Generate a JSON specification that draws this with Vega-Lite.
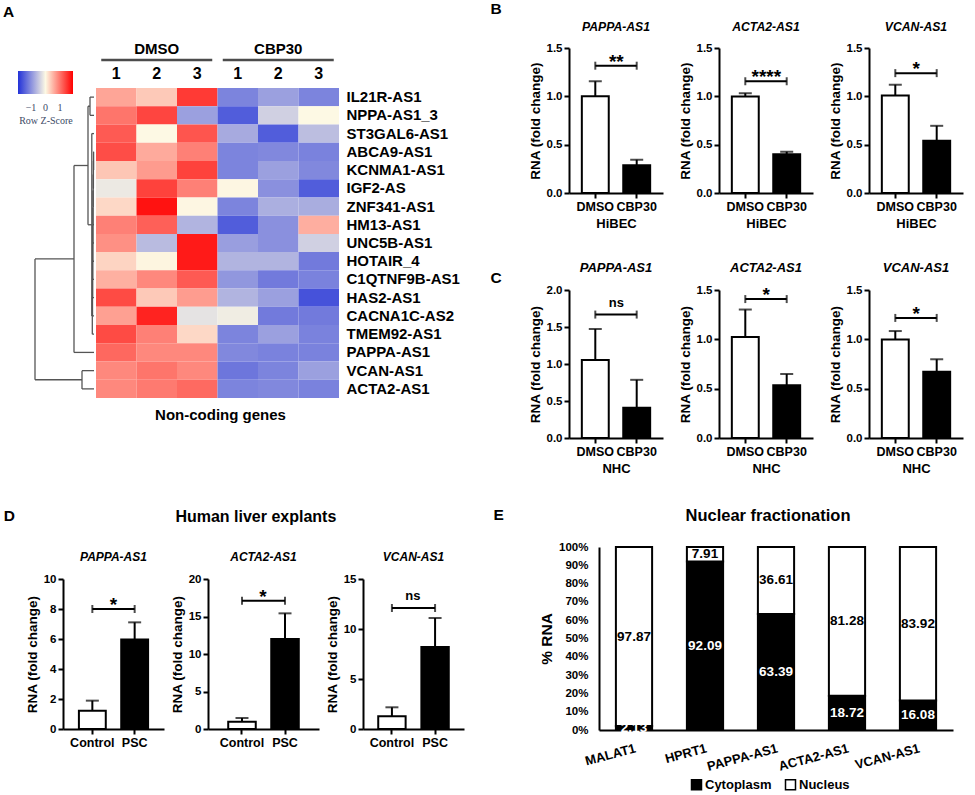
{
"$schema":"https://vega.github.io/schema/vega-lite/v6.json",
"padding":{"left":3,"top":2,"right":5,"bottom":0},
"config":{"font":"Liberation Sans","view":{"stroke":null},
"axis":{"grid":false,"domainColor":"#000","domainWidth":2,"tickColor":"#000","tickWidth":2,"tickSize":5,"labelColor":"#000","labelFont":"Liberation Sans","labelFontWeight":"bold","labelFontSize":11.5,"labelPadding":2,"labelOverlap":false,"titleColor":"#000","titleFont":"Liberation Sans","titleFontWeight":"bold","titleFontSize":13.5},
"axisX":{"titlePadding":5,"labelFontSize":12.5,"titleFontSize":13},
"axisY":{"titlePadding":3.5,"labelOverlap":false},
"title":{"font":"Liberation Sans","fontWeight":"bold","color":"#000"},
"text":{"font":"Liberation Sans"}},
"resolve":{"scale":{"color":"independent","fill":"independent"},"legend":{"color":"independent","fill":"independent"}},
"spacing":26,
"hconcat":[
{"spacing":85,"resolve":{"scale":{"color":"independent","fill":"independent"},"legend":{"color":"independent","fill":"independent"}},
"vconcat":[
{"title":{"text":"A","anchor":"start","fontSize":15.5,"dx":-15,"offset":22},"spacing":3,
"resolve":{"scale":{"color":"independent","fill":"independent"},"legend":{"color":"independent","fill":"independent"}},
"vconcat":[
{"width":304,"height":13,
"data":{"values":[{"s":"DMSO 2","t":"DMSO"},{"s":"CBP30 2","t":"CBP30"}]},
"encoding":{"x":{"field":"s","type":"nominal","scale":{"domain":["DMSO 1","DMSO 2","DMSO 3","CBP30 1","CBP30 2","CBP30 3"],"range":[61,304],"paddingInner":0,"paddingOuter":0},"axis":null},
"y":{"datum":0,"type":"quantitative","scale":{"domain":[-0.08,1],"nice":false},"axis":null}},
"layer":[
{"mark":{"type":"tick","orient":"horizontal","size":111,"thickness":2.5,"color":"#000"}},
{"mark":{"type":"text","fontSize":15,"fontWeight":"bold","dy":-6,"baseline":"alphabetic","color":"#000"},"encoding":{"text":{"field":"t"}}}
]},
{"hconcat":[
{"width":61,"height":310,
"data":{"values":[
{"a":4,"b":4,"p":1,"q":2},{"a":0,"b":4,"p":1,"q":1},{"a":0,"b":4,"p":2,"q":2},
{"a":0.4,"b":0.4,"p":4,"q":5},{"a":0,"b":0.4,"p":4,"q":4},{"a":0,"b":0.4,"p":5,"q":5},
{"a":0.6,"b":0.6,"p":4.5,"q":6},{"a":0.4,"b":0.6,"p":4.5,"q":4.5},{"a":0,"b":0.6,"p":6,"q":6},
{"a":0.8,"b":0.8,"p":5.25,"q":7},{"a":0.6,"b":0.8,"p":5.25,"q":5.25},{"a":0,"b":0.8,"p":7,"q":7},
{"a":1,"b":1,"p":6.125,"q":8},{"a":0.8,"b":1,"p":6.125,"q":6.125},{"a":0,"b":1,"p":8,"q":8},
{"a":1.1,"b":1.1,"p":7.06,"q":9},{"a":1,"b":1.1,"p":7.06,"q":7.06},{"a":0,"b":1.1,"p":9,"q":9},
{"a":1.2,"b":1.2,"p":8.03,"q":10},{"a":1.1,"b":1.2,"p":8.03,"q":8.03},{"a":0,"b":1.2,"p":10,"q":10},
{"a":1.3,"b":1.3,"p":9.02,"q":11},{"a":1.2,"b":1.3,"p":9.02,"q":9.02},{"a":0,"b":1.3,"p":11,"q":11},
{"a":1.4,"b":1.4,"p":10.01,"q":12},{"a":1.3,"b":1.4,"p":10.01,"q":10.01},{"a":0,"b":1.4,"p":12,"q":12},
{"a":1.5,"b":1.5,"p":11,"q":13},{"a":1.4,"b":1.5,"p":11,"q":11},{"a":0,"b":1.5,"p":13,"q":13},
{"a":1.7,"b":1.7,"p":12,"q":14},{"a":1.5,"b":1.7,"p":12,"q":12},{"a":0,"b":1.7,"p":14,"q":14},
{"a":2.2,"b":2.2,"p":3,"q":13},{"a":0,"b":2.2,"p":3,"q":3},{"a":1.7,"b":2.2,"p":13,"q":13},
{"a":6,"b":6,"p":1.5,"q":8},{"a":4,"b":6,"p":1.5,"q":1.5},{"a":2.2,"b":6,"p":8,"q":8},
{"a":20,"b":20,"p":4.75,"q":15},{"a":6,"b":20,"p":4.75,"q":4.75},{"a":0,"b":20,"p":15,"q":15},
{"a":12,"b":12,"p":16,"q":17},{"a":0,"b":12,"p":16,"q":16},{"a":0,"b":12,"p":17,"q":17},
{"a":59,"b":59,"p":9.875,"q":16.5},{"a":20,"b":59,"p":9.875,"q":9.875},{"a":12,"b":59,"p":16.5,"q":16.5}
]},
"mark":{"type":"rule","color":"#555","strokeWidth":1.3},
"encoding":{"x":{"field":"a","type":"quantitative","scale":{"domain":[-2,59],"reverse":true,"nice":false,"zero":false},"axis":null},
"x2":{"field":"b"},
"y":{"field":"p","type":"quantitative","scale":{"domain":[0.5,17.5],"reverse":true,"nice":false,"zero":false},"axis":null},
"y2":{"field":"q"}}},
{"width":243,"height":310,
"title":{"text":"Non-coding genes","orient":"bottom","fontSize":15,"offset":10,"dx":3},
"data":{"values":[
{"g":"IL21R-AS1","s":"DMSO 1","z":0.64},{"g":"IL21R-AS1","s":"DMSO 2","z":0.37},{"g":"IL21R-AS1","s":"DMSO 3","z":1.46},{"g":"IL21R-AS1","s":"CBP30 1","z":-1.12},{"g":"IL21R-AS1","s":"CBP30 2","z":-0.85},{"g":"IL21R-AS1","s":"CBP30 3","z":-1.12},
{"g":"NPPA-AS1_3","s":"DMSO 1","z":1.01},{"g":"NPPA-AS1_3","s":"DMSO 2","z":1.37},{"g":"NPPA-AS1_3","s":"DMSO 3","z":-0.85},{"g":"NPPA-AS1_3","s":"CBP30 1","z":-1.49},{"g":"NPPA-AS1_3","s":"CBP30 2","z":-0.39},{"g":"NPPA-AS1_3","s":"CBP30 3","z":0.0},
{"g":"ST3GAL6-AS1","s":"DMSO 1","z":1.21},{"g":"ST3GAL6-AS1","s":"DMSO 2","z":0.0},{"g":"ST3GAL6-AS1","s":"DMSO 3","z":1.25},{"g":"ST3GAL6-AS1","s":"CBP30 1","z":-0.75},{"g":"ST3GAL6-AS1","s":"CBP30 2","z":-1.49},{"g":"ST3GAL6-AS1","s":"CBP30 3","z":-0.56},
{"g":"ABCA9-AS1","s":"DMSO 1","z":1.31},{"g":"ABCA9-AS1","s":"DMSO 2","z":0.6},{"g":"ABCA9-AS1","s":"DMSO 3","z":0.92},{"g":"ABCA9-AS1","s":"CBP30 1","z":-1.12},{"g":"ABCA9-AS1","s":"CBP30 2","z":-1.08},{"g":"ABCA9-AS1","s":"CBP30 3","z":-1.14},
{"g":"KCNMA1-AS1","s":"DMSO 1","z":0.39},{"g":"KCNMA1-AS1","s":"DMSO 2","z":0.72},{"g":"KCNMA1-AS1","s":"DMSO 3","z":1.4},{"g":"KCNMA1-AS1","s":"CBP30 1","z":-1.12},{"g":"KCNMA1-AS1","s":"CBP30 2","z":-0.85},{"g":"KCNMA1-AS1","s":"CBP30 3","z":-1.08},
{"g":"IGF2-AS","s":"DMSO 1","z":-0.15},{"g":"IGF2-AS","s":"DMSO 2","z":1.4},{"g":"IGF2-AS","s":"DMSO 3","z":0.92},{"g":"IGF2-AS","s":"CBP30 1","z":0.02},{"g":"IGF2-AS","s":"CBP30 2","z":-1.0},{"g":"IGF2-AS","s":"CBP30 3","z":-1.49},
{"g":"ZNF341-AS1","s":"DMSO 1","z":0.25},{"g":"ZNF341-AS1","s":"DMSO 2","z":1.76},{"g":"ZNF341-AS1","s":"DMSO 3","z":0.02},{"g":"ZNF341-AS1","s":"CBP30 1","z":-1.12},{"g":"ZNF341-AS1","s":"CBP30 2","z":-0.71},{"g":"ZNF341-AS1","s":"CBP30 3","z":-0.73},
{"g":"HM13-AS1","s":"DMSO 1","z":0.92},{"g":"HM13-AS1","s":"DMSO 2","z":1.17},{"g":"HM13-AS1","s":"DMSO 3","z":-0.66},{"g":"HM13-AS1","s":"CBP30 1","z":-1.49},{"g":"HM13-AS1","s":"CBP30 2","z":-1.0},{"g":"HM13-AS1","s":"CBP30 3","z":0.57},
{"g":"UNC5B-AS1","s":"DMSO 1","z":0.8},{"g":"UNC5B-AS1","s":"DMSO 2","z":-0.59},{"g":"UNC5B-AS1","s":"DMSO 3","z":1.7},{"g":"UNC5B-AS1","s":"CBP30 1","z":-0.87},{"g":"UNC5B-AS1","s":"CBP30 2","z":-1.0},{"g":"UNC5B-AS1","s":"CBP30 3","z":-0.39},
{"g":"HOTAIR_4","s":"DMSO 1","z":0.28},{"g":"HOTAIR_4","s":"DMSO 2","z":0.03},{"g":"HOTAIR_4","s":"DMSO 3","z":1.7},{"g":"HOTAIR_4","s":"CBP30 1","z":-0.66},{"g":"HOTAIR_4","s":"CBP30 2","z":-0.66},{"g":"HOTAIR_4","s":"CBP30 3","z":-1.21},
{"g":"C1QTNF9B-AS1","s":"DMSO 1","z":0.56},{"g":"C1QTNF9B-AS1","s":"DMSO 2","z":0.86},{"g":"C1QTNF9B-AS1","s":"DMSO 3","z":1.21},{"g":"C1QTNF9B-AS1","s":"CBP30 1","z":-0.94},{"g":"C1QTNF9B-AS1","s":"CBP30 2","z":-1.21},{"g":"C1QTNF9B-AS1","s":"CBP30 3","z":-1.14},
{"g":"HAS2-AS1","s":"DMSO 1","z":1.33},{"g":"HAS2-AS1","s":"DMSO 2","z":0.37},{"g":"HAS2-AS1","s":"DMSO 3","z":0.71},{"g":"HAS2-AS1","s":"CBP30 1","z":-0.66},{"g":"HAS2-AS1","s":"CBP30 2","z":-0.85},{"g":"HAS2-AS1","s":"CBP30 3","z":-1.59},
{"g":"CACNA1C-AS2","s":"DMSO 1","z":0.68},{"g":"CACNA1C-AS2","s":"DMSO 2","z":1.63},{"g":"CACNA1C-AS2","s":"DMSO 3","z":-0.21},{"g":"CACNA1C-AS2","s":"CBP30 1","z":-0.11},{"g":"CACNA1C-AS2","s":"CBP30 2","z":-1.21},{"g":"CACNA1C-AS2","s":"CBP30 3","z":-1.21},
{"g":"TMEM92-AS1","s":"DMSO 1","z":1.33},{"g":"TMEM92-AS1","s":"DMSO 2","z":0.92},{"g":"TMEM92-AS1","s":"DMSO 3","z":0.25},{"g":"TMEM92-AS1","s":"CBP30 1","z":-1.12},{"g":"TMEM92-AS1","s":"CBP30 2","z":-0.85},{"g":"TMEM92-AS1","s":"CBP30 3","z":-1.14},
{"g":"PAPPA-AS1","s":"DMSO 1","z":1.11},{"g":"PAPPA-AS1","s":"DMSO 2","z":0.86},{"g":"PAPPA-AS1","s":"DMSO 3","z":0.86},{"g":"PAPPA-AS1","s":"CBP30 1","z":-1.08},{"g":"PAPPA-AS1","s":"CBP30 2","z":-1.14},{"g":"PAPPA-AS1","s":"CBP30 3","z":-1.14},
{"g":"VCAN-AS1","s":"DMSO 1","z":0.86},{"g":"VCAN-AS1","s":"DMSO 2","z":1.01},{"g":"VCAN-AS1","s":"DMSO 3","z":0.86},{"g":"VCAN-AS1","s":"CBP30 1","z":-1.25},{"g":"VCAN-AS1","s":"CBP30 2","z":-1.12},{"g":"VCAN-AS1","s":"CBP30 3","z":-0.85},
{"g":"ACTA2-AS1","s":"DMSO 1","z":0.86},{"g":"ACTA2-AS1","s":"DMSO 2","z":0.97},{"g":"ACTA2-AS1","s":"DMSO 3","z":1.09},{"g":"ACTA2-AS1","s":"CBP30 1","z":-1.12},{"g":"ACTA2-AS1","s":"CBP30 2","z":-1.08},{"g":"ACTA2-AS1","s":"CBP30 3","z":-1.14}
]},
"mark":{"type":"rect","strokeWidth":0},
"encoding":{
"x":{"field":"s","type":"nominal","scale":{"domain":["DMSO 1","DMSO 2","DMSO 3","CBP30 1","CBP30 2","CBP30 3"],"paddingInner":0,"paddingOuter":0},"axis":{"orient":"top","title":null,"labelExpr":"slice(datum.label, -1)","domain":false,"ticks":false,"tickSize":0,"labelPadding":7,"labelFontSize":16,"labelAngle":0}},
"y":{"field":"g","type":"nominal","scale":{"domain":["IL21R-AS1","NPPA-AS1_3","ST3GAL6-AS1","ABCA9-AS1","KCNMA1-AS1","IGF2-AS","ZNF341-AS1","HM13-AS1","UNC5B-AS1","HOTAIR_4","C1QTNF9B-AS1","HAS2-AS1","CACNA1C-AS2","TMEM92-AS1","PAPPA-AS1","VCAN-AS1","ACTA2-AS1"],"paddingInner":0,"paddingOuter":0},"axis":{"orient":"right","title":null,"domain":false,"ticks":false,"tickSize":0,"labelPadding":7,"labelFontSize":15}},
"color":{"field":"z","type":"quantitative","scale":{"domain":[-1.9,0,1.9],"range":["#2232d8","#fdf9e4","#ff0000"],"interpolate":"rgb"},
"legend":{"orient":"none","legendX":-78,"legendY":-17,"direction":"horizontal","gradientLength":55,"gradientThickness":23,"gradientStrokeWidth":0,"values":[-1,0,1],"title":"Row Z-Score","titleOrient":"bottom","titleAnchor":"middle","titleFont":"Liberation Sans Narrow","titleFontSize":10,"titleFontWeight":"normal","titleColor":"#3c4a66","titlePadding":3,"labelFont":"Liberation Sans Narrow","labelFontSize":10,"labelFontWeight":"normal","labelColor":"#3c4a66","labelOffset":9,"labelOverlap":false,"padding":0}}}}
],"spacing":0,"bounds":"flush","resolve":{"scale":{"color":"independent","fill":"independent"},"legend":{"color":"independent","fill":"independent"}}}
]},
{"title":{"text":"D","anchor":"start","fontSize":15.5,"dx":-22,"dy":15,"offset":0},
"resolve":{"scale":{"color":"independent","fill":"independent"},"legend":{"color":"independent","fill":"independent"}},
"vconcat":[
{"title":{"text":"Human liver explants","fontSize":16,"offset":26,"dx":11,"frame":"bounds","anchor":"middle"},"spacing":6,
"resolve":{"scale":{"color":"independent","fill":"independent"},"legend":{"color":"independent","fill":"independent"}},
"hconcat":[
{"width":129,"height":150,"title":{"text":"PAPPA-AS1","fontStyle":"italic","fontSize":12,"offset":9,"dx":14},
"encoding":{"x":{"field":"c","type":"nominal","title":null,"scale":{"domain":["Control","PSC"],"paddingInner":0.365,"paddingOuter":0.376,"range":[28,129]},"axis":{"labelAngle":0}}},
"layer":[
{"data":{"values":[{"c":"Control","m":1.22,"u":1.89},{"c":"PSC","m":5.96,"u":7.11}]},
"layer":[
{"mark":{"type":"bar","stroke":"#000","strokeWidth":2},"encoding":{"y":{"field":"m","type":"quantitative","scale":{"domain":[0,10],"nice":false},"axis":{"title":"RNA (fold change)","values":[0,2,4,6,8,10],"tickCount":20,"format":"d","offset":-28,"labelOverlap":false}},"fill":{"condition":{"test":"datum.c === 'Control'","value":"#fff"},"value":"#000"}}},
{"mark":{"type":"rule","strokeWidth":2,"color":"#000"},"encoding":{"y":{"field":"m","type":"quantitative","scale":{"domain":[0,10],"nice":false}},"y2":{"field":"u"}}},
{"mark":{"type":"tick","orient":"horizontal","size":13,"thickness":2,"color":"#000"},"encoding":{"y":{"field":"u","type":"quantitative","scale":{"domain":[0,10],"nice":false}}}}
]},
{"data":{"values":[{"c":"Control","d":"PSC","y":8.0,"t":"*"}]},
"layer":[
{"mark":{"type":"rule","strokeWidth":2,"color":"#000"},"encoding":{"x2":{"field":"d"},"y":{"field":"y","type":"quantitative","scale":{"domain":[0,10],"nice":false}}}},
{"mark":{"type":"tick","orient":"vertical","size":8,"thickness":2,"color":"#000"},"encoding":{"y":{"field":"y","type":"quantitative","scale":{"domain":[0,10],"nice":false}}}},
{"mark":{"type":"tick","orient":"vertical","size":8,"thickness":2,"color":"#000"},"encoding":{"x":{"field":"d","type":"nominal","title":null,"scale":{"domain":["Control","PSC"],"paddingInner":0.365,"paddingOuter":0.376,"range":[28,129]},"axis":{"labelAngle":0}},"y":{"field":"y","type":"quantitative","scale":{"domain":[0,10],"nice":false}}}},
{"mark":{"type":"text","fontWeight":"bold","fontSize":19,"baseline":"alphabetic","dx":21,"dy":2},"encoding":{"y":{"field":"y","type":"quantitative","scale":{"domain":[0,10],"nice":false}},"text":{"field":"t"}}}
]}
]},
{"width":111,"height":150,"title":{"text":"ACTA2-AS1","fontStyle":"italic","fontSize":12,"offset":9},
"encoding":{"x":{"field":"c","type":"nominal","title":null,"scale":{"domain":["Control","PSC"],"paddingInner":0.36,"paddingOuter":0.47},"axis":{"labelAngle":0}}},
"layer":[
{"data":{"values":[{"c":"Control","m":0.98,"u":1.47},{"c":"PSC","m":12.0,"u":15.42}]},
"layer":[
{"mark":{"type":"bar","stroke":"#000","strokeWidth":2},"encoding":{"y":{"field":"m","type":"quantitative","scale":{"domain":[0,20],"nice":false},"axis":{"title":"RNA (fold change)","values":[0,5,10,15,20],"tickCount":20,"format":"d","labelOverlap":false}},"fill":{"condition":{"test":"datum.c === 'Control'","value":"#fff"},"value":"#000"}}},
{"mark":{"type":"rule","strokeWidth":2,"color":"#000"},"encoding":{"y":{"field":"m","type":"quantitative","scale":{"domain":[0,20],"nice":false}},"y2":{"field":"u"}}},
{"mark":{"type":"tick","orient":"horizontal","size":13,"thickness":2,"color":"#000"},"encoding":{"y":{"field":"u","type":"quantitative","scale":{"domain":[0,20],"nice":false}}}}
]},
{"data":{"values":[{"c":"Control","d":"PSC","y":17.1,"t":"*"}]},
"layer":[
{"mark":{"type":"rule","strokeWidth":2,"color":"#000"},"encoding":{"x2":{"field":"d"},"y":{"field":"y","type":"quantitative","scale":{"domain":[0,20],"nice":false}}}},
{"mark":{"type":"tick","orient":"vertical","size":8,"thickness":2,"color":"#000"},"encoding":{"y":{"field":"y","type":"quantitative","scale":{"domain":[0,20],"nice":false}}}},
{"mark":{"type":"tick","orient":"vertical","size":8,"thickness":2,"color":"#000"},"encoding":{"x":{"field":"d","type":"nominal","title":null,"scale":{"domain":["Control","PSC"],"paddingInner":0.36,"paddingOuter":0.47},"axis":{"labelAngle":0}},"y":{"field":"y","type":"quantitative","scale":{"domain":[0,20],"nice":false}}}},
{"mark":{"type":"text","fontWeight":"bold","fontSize":19,"baseline":"alphabetic","dx":21,"dy":2},"encoding":{"y":{"field":"y","type":"quantitative","scale":{"domain":[0,20],"nice":false}},"text":{"field":"t"}}}
]}
]},
{"width":101,"height":150,"title":{"text":"VCAN-AS1","fontStyle":"italic","fontSize":12,"offset":9},
"encoding":{"x":{"field":"c","type":"nominal","title":null,"scale":{"domain":["Control","PSC"],"paddingInner":0.365,"paddingOuter":0.353},"axis":{"labelAngle":0}}},
"layer":[
{"data":{"values":[{"c":"Control","m":1.27,"u":2.17},{"c":"PSC","m":8.2,"u":11.1}]},
"layer":[
{"mark":{"type":"bar","stroke":"#000","strokeWidth":2},"encoding":{"y":{"field":"m","type":"quantitative","scale":{"domain":[0,15],"nice":false},"axis":{"title":"RNA (fold change)","values":[0,5,10,15],"tickCount":20,"format":"d","labelOverlap":false}},"fill":{"condition":{"test":"datum.c === 'Control'","value":"#fff"},"value":"#000"}}},
{"mark":{"type":"rule","strokeWidth":2,"color":"#000"},"encoding":{"y":{"field":"m","type":"quantitative","scale":{"domain":[0,15],"nice":false}},"y2":{"field":"u"}}},
{"mark":{"type":"tick","orient":"horizontal","size":13,"thickness":2,"color":"#000"},"encoding":{"y":{"field":"u","type":"quantitative","scale":{"domain":[0,15],"nice":false}}}}
]},
{"data":{"values":[{"c":"Control","d":"PSC","y":12.1,"t":"ns"}]},
"layer":[
{"mark":{"type":"rule","strokeWidth":2,"color":"#000"},"encoding":{"x2":{"field":"d"},"y":{"field":"y","type":"quantitative","scale":{"domain":[0,15],"nice":false}}}},
{"mark":{"type":"tick","orient":"vertical","size":8,"thickness":2,"color":"#000"},"encoding":{"y":{"field":"y","type":"quantitative","scale":{"domain":[0,15],"nice":false}}}},
{"mark":{"type":"tick","orient":"vertical","size":8,"thickness":2,"color":"#000"},"encoding":{"x":{"field":"d","type":"nominal","title":null,"scale":{"domain":["Control","PSC"],"paddingInner":0.365,"paddingOuter":0.353},"axis":{"labelAngle":0}},"y":{"field":"y","type":"quantitative","scale":{"domain":[0,15],"nice":false}}}},
{"mark":{"type":"text","fontWeight":"bold","fontSize":13,"baseline":"alphabetic","dx":21,"dy":-8},"encoding":{"y":{"field":"y","type":"quantitative","scale":{"domain":[0,15],"nice":false}},"text":{"field":"t"}}}
]}
]}
]}
]}
]},
{"spacing":31,"resolve":{"scale":{"color":"independent","fill":"independent"},"legend":{"color":"independent","fill":"independent"}},
"vconcat":[
{"title":{"text":"B","anchor":"start","fontSize":15.5,"dx":-38,"offset":3},"spacing":15,
"resolve":{"scale":{"color":"independent","fill":"independent"},"legend":{"color":"independent","fill":"independent"}},
"hconcat":[
{"width":94,"height":145,"title":{"text":"PAPPA-AS1","fontStyle":"italic","fontSize":12.2,"offset":9},
"encoding":{"x":{"field":"c","type":"nominal","title":"HiBEC","scale":{"domain":["DMSO","CBP30"],"paddingInner":0.35,"paddingOuter":0.31},"axis":{"labelAngle":0}}},
"layer":[
{"data":{"values":[{"c":"DMSO","m":1.0,"u":1.156},{"c":"CBP30","m":0.286,"u":0.344}]},
"layer":[
{"mark":{"type":"bar","stroke":"#000","strokeWidth":2},"encoding":{"y":{"field":"m","type":"quantitative","scale":{"domain":[0,1.5],"nice":false},"axis":{"title":"RNA (fold change)","values":[0,0.5,1,1.5],"tickCount":20,"format":".1f","labelOverlap":false}},"fill":{"condition":{"test":"datum.c === 'DMSO'","value":"#fff"},"value":"#000"}}},
{"mark":{"type":"rule","strokeWidth":2,"color":"#000"},"encoding":{"y":{"field":"m","type":"quantitative","scale":{"domain":[0,1.5],"nice":false}},"y2":{"field":"u"}}},
{"mark":{"type":"tick","orient":"horizontal","size":13,"thickness":2,"color":"#000"},"encoding":{"y":{"field":"u","type":"quantitative","scale":{"domain":[0,1.5],"nice":false}}}}
]},
{"data":{"values":[{"c":"DMSO","d":"CBP30","y":1.317,"t":"**"}]},
"layer":[
{"mark":{"type":"rule","strokeWidth":2,"color":"#000"},"encoding":{"x2":{"field":"d"},"y":{"field":"y","type":"quantitative","scale":{"domain":[0,1.5],"nice":false}}}},
{"mark":{"type":"tick","orient":"vertical","size":8,"thickness":2,"color":"#000"},"encoding":{"y":{"field":"y","type":"quantitative","scale":{"domain":[0,1.5],"nice":false}}}},
{"mark":{"type":"tick","orient":"vertical","size":8,"thickness":2,"color":"#000"},"encoding":{"x":{"field":"d","type":"nominal","title":"HiBEC","scale":{"domain":["DMSO","CBP30"],"paddingInner":0.35,"paddingOuter":0.31},"axis":{"labelAngle":0}},"y":{"field":"y","type":"quantitative","scale":{"domain":[0,1.5],"nice":false}}}},
{"mark":{"type":"text","fontWeight":"bold","fontSize":19,"baseline":"alphabetic","dx":21,"dy":2},"encoding":{"y":{"field":"y","type":"quantitative","scale":{"domain":[0,1.5],"nice":false}},"text":{"field":"t"}}}
]}
]},
{"width":94,"height":145,"title":{"text":"ACTA2-AS1","fontStyle":"italic","fontSize":12.2,"offset":9},
"encoding":{"x":{"field":"c","type":"nominal","title":"HiBEC","scale":{"domain":["DMSO","CBP30"],"paddingInner":0.35,"paddingOuter":0.31},"axis":{"labelAngle":0}}},
"layer":[
{"data":{"values":[{"c":"DMSO","m":0.998,"u":1.032},{"c":"CBP30","m":0.4,"u":0.427}]},
"layer":[
{"mark":{"type":"bar","stroke":"#000","strokeWidth":2},"encoding":{"y":{"field":"m","type":"quantitative","scale":{"domain":[0,1.5],"nice":false},"axis":{"title":"RNA (fold change)","values":[0,0.5,1,1.5],"tickCount":20,"format":".1f","labelOverlap":false}},"fill":{"condition":{"test":"datum.c === 'DMSO'","value":"#fff"},"value":"#000"}}},
{"mark":{"type":"rule","strokeWidth":2,"color":"#000"},"encoding":{"y":{"field":"m","type":"quantitative","scale":{"domain":[0,1.5],"nice":false}},"y2":{"field":"u"}}},
{"mark":{"type":"tick","orient":"horizontal","size":13,"thickness":2,"color":"#000"},"encoding":{"y":{"field":"u","type":"quantitative","scale":{"domain":[0,1.5],"nice":false}}}}
]},
{"data":{"values":[{"c":"DMSO","d":"CBP30","y":1.156,"t":"****"}]},
"layer":[
{"mark":{"type":"rule","strokeWidth":2,"color":"#000"},"encoding":{"x2":{"field":"d"},"y":{"field":"y","type":"quantitative","scale":{"domain":[0,1.5],"nice":false}}}},
{"mark":{"type":"tick","orient":"vertical","size":8,"thickness":2,"color":"#000"},"encoding":{"y":{"field":"y","type":"quantitative","scale":{"domain":[0,1.5],"nice":false}}}},
{"mark":{"type":"tick","orient":"vertical","size":8,"thickness":2,"color":"#000"},"encoding":{"x":{"field":"d","type":"nominal","title":"HiBEC","scale":{"domain":["DMSO","CBP30"],"paddingInner":0.35,"paddingOuter":0.31},"axis":{"labelAngle":0}},"y":{"field":"y","type":"quantitative","scale":{"domain":[0,1.5],"nice":false}}}},
{"mark":{"type":"text","fontWeight":"bold","fontSize":19,"baseline":"alphabetic","dx":21,"dy":2},"encoding":{"y":{"field":"y","type":"quantitative","scale":{"domain":[0,1.5],"nice":false}},"text":{"field":"t"}}}
]}
]},
{"width":94,"height":145,"title":{"text":"VCAN-AS1","fontStyle":"italic","fontSize":12.2,"offset":9},
"encoding":{"x":{"field":"c","type":"nominal","title":"HiBEC","scale":{"domain":["DMSO","CBP30"],"paddingInner":0.35,"paddingOuter":0.31},"axis":{"labelAngle":0}}},
"layer":[
{"data":{"values":[{"c":"DMSO","m":1.008,"u":1.12},{"c":"CBP30","m":0.54,"u":0.695}]},
"layer":[
{"mark":{"type":"bar","stroke":"#000","strokeWidth":2},"encoding":{"y":{"field":"m","type":"quantitative","scale":{"domain":[0,1.5],"nice":false},"axis":{"title":"RNA (fold change)","values":[0,0.5,1,1.5],"tickCount":20,"format":".1f","labelOverlap":false}},"fill":{"condition":{"test":"datum.c === 'DMSO'","value":"#fff"},"value":"#000"}}},
{"mark":{"type":"rule","strokeWidth":2,"color":"#000"},"encoding":{"y":{"field":"m","type":"quantitative","scale":{"domain":[0,1.5],"nice":false}},"y2":{"field":"u"}}},
{"mark":{"type":"tick","orient":"horizontal","size":13,"thickness":2,"color":"#000"},"encoding":{"y":{"field":"u","type":"quantitative","scale":{"domain":[0,1.5],"nice":false}}}}
]},
{"data":{"values":[{"c":"DMSO","d":"CBP30","y":1.24,"t":"*"}]},
"layer":[
{"mark":{"type":"rule","strokeWidth":2,"color":"#000"},"encoding":{"x2":{"field":"d"},"y":{"field":"y","type":"quantitative","scale":{"domain":[0,1.5],"nice":false}}}},
{"mark":{"type":"tick","orient":"vertical","size":8,"thickness":2,"color":"#000"},"encoding":{"y":{"field":"y","type":"quantitative","scale":{"domain":[0,1.5],"nice":false}}}},
{"mark":{"type":"tick","orient":"vertical","size":8,"thickness":2,"color":"#000"},"encoding":{"x":{"field":"d","type":"nominal","title":"HiBEC","scale":{"domain":["DMSO","CBP30"],"paddingInner":0.35,"paddingOuter":0.31},"axis":{"labelAngle":0}},"y":{"field":"y","type":"quantitative","scale":{"domain":[0,1.5],"nice":false}}}},
{"mark":{"type":"text","fontWeight":"bold","fontSize":19,"baseline":"alphabetic","dx":21,"dy":2},"encoding":{"y":{"field":"y","type":"quantitative","scale":{"domain":[0,1.5],"nice":false}},"text":{"field":"t"}}}
]}
]}
]},
{"title":{"text":"C","anchor":"start","fontSize":15.5,"dx":-38,"dy":24,"offset":0},"spacing":15,
"resolve":{"scale":{"color":"independent","fill":"independent"},"legend":{"color":"independent","fill":"independent"}},
"hconcat":[
{"width":94,"height":148,"title":{"text":"PAPPA-AS1","fontStyle":"italic","fontSize":13,"offset":9},
"encoding":{"x":{"field":"c","type":"nominal","title":"NHC","scale":{"domain":["DMSO","CBP30"],"paddingInner":0.35,"paddingOuter":0.31},"axis":{"labelAngle":0}}},
"layer":[
{"data":{"values":[{"c":"DMSO","m":1.055,"u":1.473},{"c":"CBP30","m":0.41,"u":0.786}]},
"layer":[
{"mark":{"type":"bar","stroke":"#000","strokeWidth":2},"encoding":{"y":{"field":"m","type":"quantitative","scale":{"domain":[0,2],"nice":false},"axis":{"title":"RNA (fold change)","values":[0,0.5,1,1.5,2],"tickCount":20,"format":".1f","labelOverlap":false}},"fill":{"condition":{"test":"datum.c === 'DMSO'","value":"#fff"},"value":"#000"}}},
{"mark":{"type":"rule","strokeWidth":2,"color":"#000"},"encoding":{"y":{"field":"m","type":"quantitative","scale":{"domain":[0,2],"nice":false}},"y2":{"field":"u"}}},
{"mark":{"type":"tick","orient":"horizontal","size":13,"thickness":2,"color":"#000"},"encoding":{"y":{"field":"u","type":"quantitative","scale":{"domain":[0,2],"nice":false}}}}
]},
{"data":{"values":[{"c":"DMSO","d":"CBP30","y":1.668,"t":"ns"}]},
"layer":[
{"mark":{"type":"rule","strokeWidth":2,"color":"#000"},"encoding":{"x2":{"field":"d"},"y":{"field":"y","type":"quantitative","scale":{"domain":[0,2],"nice":false}}}},
{"mark":{"type":"tick","orient":"vertical","size":8,"thickness":2,"color":"#000"},"encoding":{"y":{"field":"y","type":"quantitative","scale":{"domain":[0,2],"nice":false}}}},
{"mark":{"type":"tick","orient":"vertical","size":8,"thickness":2,"color":"#000"},"encoding":{"x":{"field":"d","type":"nominal","title":"NHC","scale":{"domain":["DMSO","CBP30"],"paddingInner":0.35,"paddingOuter":0.31},"axis":{"labelAngle":0}},"y":{"field":"y","type":"quantitative","scale":{"domain":[0,2],"nice":false}}}},
{"mark":{"type":"text","fontWeight":"bold","fontSize":13,"baseline":"alphabetic","dx":21,"dy":-8},"encoding":{"y":{"field":"y","type":"quantitative","scale":{"domain":[0,2],"nice":false}},"text":{"field":"t"}}}
]}
]},
{"width":94,"height":148,"title":{"text":"ACTA2-AS1","fontStyle":"italic","fontSize":13,"offset":9},
"encoding":{"x":{"field":"c","type":"nominal","title":"NHC","scale":{"domain":["DMSO","CBP30"],"paddingInner":0.35,"paddingOuter":0.31},"axis":{"labelAngle":0}}},
"layer":[
{"data":{"values":[{"c":"DMSO","m":1.023,"u":1.302},{"c":"CBP30","m":0.535,"u":0.648}]},
"layer":[
{"mark":{"type":"bar","stroke":"#000","strokeWidth":2},"encoding":{"y":{"field":"m","type":"quantitative","scale":{"domain":[0,1.5],"nice":false},"axis":{"title":"RNA (fold change)","values":[0,0.5,1,1.5],"tickCount":20,"format":".1f","labelOverlap":false}},"fill":{"condition":{"test":"datum.c === 'DMSO'","value":"#fff"},"value":"#000"}}},
{"mark":{"type":"rule","strokeWidth":2,"color":"#000"},"encoding":{"y":{"field":"m","type":"quantitative","scale":{"domain":[0,1.5],"nice":false}},"y2":{"field":"u"}}},
{"mark":{"type":"tick","orient":"horizontal","size":13,"thickness":2,"color":"#000"},"encoding":{"y":{"field":"u","type":"quantitative","scale":{"domain":[0,1.5],"nice":false}}}}
]},
{"data":{"values":[{"c":"DMSO","d":"CBP30","y":1.408,"t":"*"}]},
"layer":[
{"mark":{"type":"rule","strokeWidth":2,"color":"#000"},"encoding":{"x2":{"field":"d"},"y":{"field":"y","type":"quantitative","scale":{"domain":[0,1.5],"nice":false}}}},
{"mark":{"type":"tick","orient":"vertical","size":8,"thickness":2,"color":"#000"},"encoding":{"y":{"field":"y","type":"quantitative","scale":{"domain":[0,1.5],"nice":false}}}},
{"mark":{"type":"tick","orient":"vertical","size":8,"thickness":2,"color":"#000"},"encoding":{"x":{"field":"d","type":"nominal","title":"NHC","scale":{"domain":["DMSO","CBP30"],"paddingInner":0.35,"paddingOuter":0.31},"axis":{"labelAngle":0}},"y":{"field":"y","type":"quantitative","scale":{"domain":[0,1.5],"nice":false}}}},
{"mark":{"type":"text","fontWeight":"bold","fontSize":19,"baseline":"alphabetic","dx":21,"dy":2},"encoding":{"y":{"field":"y","type":"quantitative","scale":{"domain":[0,1.5],"nice":false}},"text":{"field":"t"}}}
]}
]},
{"width":94,"height":148,"title":{"text":"VCAN-AS1","fontStyle":"italic","fontSize":13,"offset":9},
"encoding":{"x":{"field":"c","type":"nominal","title":"NHC","scale":{"domain":["DMSO","CBP30"],"paddingInner":0.35,"paddingOuter":0.31},"axis":{"labelAngle":0}}},
"layer":[
{"data":{"values":[{"c":"DMSO","m":0.999,"u":1.084},{"c":"CBP30","m":0.672,"u":0.798}]},
"layer":[
{"mark":{"type":"bar","stroke":"#000","strokeWidth":2},"encoding":{"y":{"field":"m","type":"quantitative","scale":{"domain":[0,1.5],"nice":false},"axis":{"title":"RNA (fold change)","values":[0,0.5,1,1.5],"tickCount":20,"format":".1f","labelOverlap":false}},"fill":{"condition":{"test":"datum.c === 'DMSO'","value":"#fff"},"value":"#000"}}},
{"mark":{"type":"rule","strokeWidth":2,"color":"#000"},"encoding":{"y":{"field":"m","type":"quantitative","scale":{"domain":[0,1.5],"nice":false}},"y2":{"field":"u"}}},
{"mark":{"type":"tick","orient":"horizontal","size":13,"thickness":2,"color":"#000"},"encoding":{"y":{"field":"u","type":"quantitative","scale":{"domain":[0,1.5],"nice":false}}}}
]},
{"data":{"values":[{"c":"DMSO","d":"CBP30","y":1.217,"t":"*"}]},
"layer":[
{"mark":{"type":"rule","strokeWidth":2,"color":"#000"},"encoding":{"x2":{"field":"d"},"y":{"field":"y","type":"quantitative","scale":{"domain":[0,1.5],"nice":false}}}},
{"mark":{"type":"tick","orient":"vertical","size":8,"thickness":2,"color":"#000"},"encoding":{"y":{"field":"y","type":"quantitative","scale":{"domain":[0,1.5],"nice":false}}}},
{"mark":{"type":"tick","orient":"vertical","size":8,"thickness":2,"color":"#000"},"encoding":{"x":{"field":"d","type":"nominal","title":"NHC","scale":{"domain":["DMSO","CBP30"],"paddingInner":0.35,"paddingOuter":0.31},"axis":{"labelAngle":0}},"y":{"field":"y","type":"quantitative","scale":{"domain":[0,1.5],"nice":false}}}},
{"mark":{"type":"text","fontWeight":"bold","fontSize":19,"baseline":"alphabetic","dx":21,"dy":2},"encoding":{"y":{"field":"y","type":"quantitative","scale":{"domain":[0,1.5],"nice":false}},"text":{"field":"t"}}}
]}
]}
]},
{"title":{"text":"E","anchor":"start","fontSize":15.5,"dx":-46,"dy":16,"offset":0},
"resolve":{"scale":{"color":"independent","fill":"independent"},"legend":{"color":"independent","fill":"independent"}},
"vconcat":[
{"width":384,"height":183,
"title":{"text":"Nuclear fractionation","fontSize":16.5,"offset":17,"dx":7},
"data":{"values":[
{"gene":"MALAT1","part":"Cytoplasm","v":2.13},{"gene":"MALAT1","part":"Nucleus","v":97.87},
{"gene":"HPRT1","part":"Cytoplasm","v":92.09},{"gene":"HPRT1","part":"Nucleus","v":7.91},
{"gene":"PAPPA-AS1","part":"Cytoplasm","v":63.39},{"gene":"PAPPA-AS1","part":"Nucleus","v":36.61},
{"gene":"ACTA2-AS1","part":"Cytoplasm","v":18.72},{"gene":"ACTA2-AS1","part":"Nucleus","v":81.28},
{"gene":"VCAN-AS1","part":"Cytoplasm","v":16.08},{"gene":"VCAN-AS1","part":"Nucleus","v":83.92}]},
"encoding":{"x":{"field":"gene","type":"nominal","title":null,"sort":["MALAT1","HPRT1","PAPPA-AS1","ACTA2-AS1","VCAN-AS1"],"scale":{"range":[30,384],"paddingInner":0.49,"paddingOuter":0.238},"axis":{"labelAngle":-15,"labelAlign":"right","labelBaseline":"top","ticks":false,"tickSize":0,"labelPadding":12,"labelFontSize":13}}},
"layer":[
{"mark":{"type":"bar","stroke":"#000","strokeWidth":2},
"encoding":{"y":{"field":"v","type":"quantitative","stack":"zero","scale":{"domain":[0,100],"nice":false},"axis":{"title":"% RNA","offset":-30,"values":[0,10,20,30,40,50,60,70,80,90,100],"tickCount":20,"labelExpr":"datum.value + '%'","ticks":false,"tickSize":0,"labelPadding":11,"titleFontSize":15.5,"titlePadding":4,"labelOverlap":false}},
"fill":{"field":"part","type":"nominal","scale":{"domain":["Cytoplasm","Nucleus"],"range":["#000","#fff"]},"legend":{"orient":"none","legendX":121,"legendY":231,"title":null,"direction":"horizontal","symbolType":"square","symbolSize":100,"symbolStrokeColor":"#000","symbolStrokeWidth":1.5,"labelFontSize":13,"labelFontWeight":"bold","labelColor":"#000","labelOffset":2,"columnPadding":10,"padding":0}},
"order":{"field":"part","type":"nominal","sort":"ascending"}}},
{"transform":[{"filter":"datum.part === 'Cytoplasm'"}],
"mark":{"type":"text","color":"#fff","fontSize":13.5,"fontWeight":"bold"},
"encoding":{"y":{"field":"v","type":"quantitative","scale":{"domain":[0,200],"nice":false},"axis":null},"text":{"field":"v","type":"quantitative","format":".2f"}}},
{"transform":[{"filter":"datum.part === 'Nucleus'"}],
"mark":{"type":"text","color":"#000","fontSize":13.5,"fontWeight":"bold"},
"encoding":{"y":{"field":"v","type":"quantitative","scale":{"domain":[0,200],"reverse":true,"nice":false},"axis":null},"text":{"field":"v","type":"quantitative","format":".2f"}}}
],
"resolve":{"scale":{"y":"independent"}}}
]}
]}
]
}
